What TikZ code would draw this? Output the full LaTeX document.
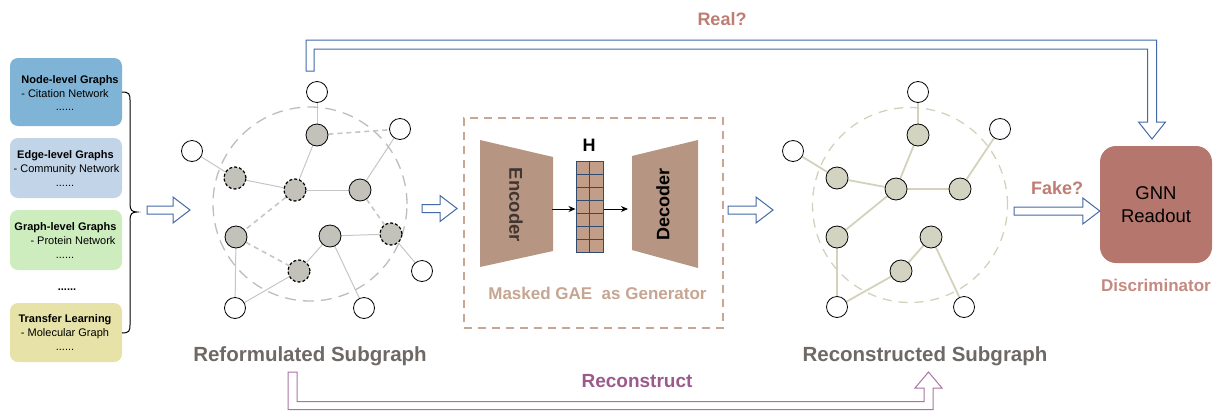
\documentclass[tikz,border=0pt]{standalone}
\usepackage{fontspec}
\setmainfont{Liberation Sans}
\usetikzlibrary{calc,backgrounds,arrows.meta}

\definecolor{boxA}{HTML}{80B4D6}
\definecolor{boxB}{HTML}{C2D4E8}
\definecolor{boxC}{HTML}{CDEDBF}
\definecolor{boxD}{HTML}{E6E2A8}
\definecolor{grayfill}{HTML}{C2C2BA}
\definecolor{beigefill}{HTML}{D3D3C1}
\definecolor{edgegray}{HTML}{C6C6C6}
\definecolor{ringgray}{HTML}{BDBDBD}
\definecolor{edgebeige}{HTML}{D4D2BA}
\definecolor{ringbeige}{HTML}{D2D2BC}
\definecolor{gaeframe}{HTML}{C9A594}
\definecolor{gaebody}{HTML}{B69582}
\definecolor{gaetext}{HTML}{C6A592}
\definecolor{enctext}{HTML}{403530}
\definecolor{cellfill}{HTML}{C29D88}
\definecolor{cellline}{HTML}{2F4B6E}
\definecolor{gnnfill}{HTML}{B5766D}
\definecolor{labelgray}{HTML}{6F6966}
\definecolor{realred}{HTML}{BE7C72}
\definecolor{discred}{HTML}{C48A80}
\definecolor{recpurple}{HTML}{9B5A8E}
\definecolor{recline}{HTML}{A874A4}
\definecolor{arrowblue}{HTML}{4369A6}

\newcommand\blockarrow[2]{%
  \draw[blockarr] let \p1=(#1), \p2=(#2) in
    (\x1,\y1+4pt) -- (\x2-17pt,\y1+4pt) -- (\x2-17pt,\y1+13pt) -- (\x2,\y1)
    -- (\x2-17pt,\y1-13pt) -- (\x2-17pt,\y1-4pt) -- (\x1,\y1-4pt) -- cycle;}

\tikzset{
  wnode/.style={circle,draw=black,line width=0.8pt,fill=white,minimum size=21pt,inner sep=0pt},
  gnode/.style={wnode,fill=grayfill,minimum size=22pt},
  mnode/.style={gnode,line width=1.2pt,dash pattern=on 3pt off 2pt},
  rnode/.style={wnode,fill=beigefill,minimum size=22pt},
  redge/.style={draw=edgegray,line width=1pt},
  medge/.style={draw=edgegray,line width=1.6pt,dash pattern=on 5pt off 4pt},
  cedge/.style={draw=edgebeige,line width=1.8pt},
  srcbox/.style={rounded corners=8pt,minimum width=112pt,inner sep=0pt},
  bhead/.style={anchor=base,font=\fontsize{11pt}{13pt}\selectfont\bfseries},
  bline/.style={anchor=base,font=\fontsize{11pt}{13pt}\selectfont},
  blockarr/.style={draw=arrowblue,fill=white,line width=1pt,line join=miter},
  biglabel/.style={anchor=base,text=labelgray,font=\fontsize{20.5pt}{24pt}\selectfont\bfseries},
}

\begin{document}
\begin{tikzpicture}[x=1pt,y=-1pt]
\useasboundingbox (0,0) rectangle (1214,410);

% ---- data sources -------------------------------------------------
\node[srcbox,fill=boxA,minimum height=68pt] (srcA) at (66,92) {};
\node[srcbox,fill=boxB,minimum height=60pt] (srcB) at (66,168) {};
\node[srcbox,fill=boxC,minimum height=60pt] (srcC) at (66,240) {};
\node[srcbox,fill=boxD,minimum height=59pt] (srcD) at (66,332.5) {};

\node[bhead] (tA1) at (70,83) {Node-level Graphs};
\node[bline] (tA2) at (65,97) {- Citation Network};
\node[bline] (tA3) at (65,110) {......};
\node[bhead] (tB1) at (65.5,158) {Edge-level Graphs};
\node[bline] (tB2) at (66.5,172) {- Community Network};
\node[bline] (tB3) at (65,186) {......};
\node[bhead] (tC1) at (65.5,230) {Graph-level Graphs};
\node[bline] (tC2) at (73,244) {- Protein Network};
\node[bline] (tC3) at (65,258) {......};
\node[bhead] (tDots) at (67,290) {......};
\node[bhead] (tD1) at (65,322) {Transfer Learning};
\node[bline] (tD2) at (65,336) {- Molecular Graph};
\node[bline] (tD3) at (65,350) {......};

% brace gathering the sources
\draw[line width=1pt] (122,92) .. controls (129,92) and (130,94) .. (130,100)
  -- (130,204) .. controls (130,210) and (132,212) .. (137,212)
  .. controls (132,212) and (130,214) .. (130,220)
  -- (130,325) .. controls (130,331) and (129,333) .. (122,333);

% ---- reformulated subgraph ---------------------------------------
\node[circle,draw=ringgray,line width=1.3pt,dash pattern=on 11pt off 7pt,minimum size=194pt,inner sep=0pt] (ringA) at (310,204) {};
\node[wnode] (a0) at (317,92) {};
\node[gnode] (a1) at (317,135) {};
\node[wnode] (a2) at (400,129) {};
\node[wnode] (a3) at (192,151) {};
\node[mnode] (a4) at (235,178) {};
\node[mnode] (a5) at (295,190) {};
\node[gnode] (a6) at (360,190) {};
\node[gnode] (a7) at (236,237) {};
\node[gnode] (a8) at (330,236) {};
\node[mnode] (a9) at (391,234) {};
\node[mnode] (a10) at (299,271) {};
\node[wnode] (a11) at (422,271) {};
\node[wnode] (a12) at (235,308) {};
\node[wnode] (a13) at (364,308) {};
\begin{pgfonlayer}{background}
  \foreach \u/\v in {a0/a1,a1/a5,a3/a4,a4/a5,a5/a6,a6/a2,a9/a11,a8/a9,a8/a10,a8/a13,a7/a12,a10/a12}
    \draw[redge] (\u) -- (\v);
  \foreach \u/\v in {a1/a2,a5/a7,a7/a10,a6/a9}
    \draw[medge] (\u) -- (\v);
\end{pgfonlayer}
\node[biglabel] (labA) at (310,361) {Reformulated Subgraph};

% ---- masked GAE generator ----------------------------------------
\node[draw=gaeframe,line width=1.5pt,dash pattern=on 8pt off 6pt,minimum width=259pt,minimum height=210pt,inner sep=0pt] (gae) at (593.5,223) {};
\fill[gaebody] (480,140) -- (553,157) -- (553,251) -- (480,267) -- cycle;
\fill[gaebody] (632,156) -- (698,140) -- (698,268) -- (632,250) -- cycle;
\node[rotate=-90,text=enctext,font=\fontsize{18.5pt}{20pt}\selectfont\bfseries] (enc) at (516,205) {Encoder};
\node[rotate=90,text=black,font=\fontsize{18pt}{20pt}\selectfont\bfseries] (dec) at (663,204) {Decoder};
\node[draw=cellline,fill=cellfill,line width=1pt,minimum width=27pt,minimum height=91pt,inner sep=0pt] (hvec) at (589.5,206.5) {};
\foreach \yy in {174,187,200,213,226,239}
  \draw[cellline,line width=0.9pt] (576,\yy) -- (603,\yy);
\draw[cellline,line width=0.9pt] (589.5,161) -- (589.5,252);
\node[anchor=base,font=\fontsize{18pt}{20pt}\selectfont\bfseries] (hlab) at (589,151) {H};
\coordinate (encR) at (552,209);
\coordinate (decL) at (628,209);
\draw[-{Stealth[length=7pt,width=6pt]},line width=0.9pt] (encR) -- (hvec.west |- encR);
\draw[-{Stealth[length=7pt,width=6pt]},line width=0.9pt] (hvec.east |- decL) -- (decL);
\node[anchor=base,text=gaetext,font=\fontsize{17pt}{20pt}\selectfont\bfseries] (gaelab) at (597.5,299) {Masked GAE\ \ as Generator};

% ---- reconstructed subgraph --------------------------------------
\node[circle,draw=ringbeige,line width=1.3pt,dash pattern=on 9pt off 7pt,minimum size=195pt,inner sep=0pt] (ringB) at (910,205) {};
\node[wnode] (b0) at (918,92) {};
\node[rnode] (b1) at (918,135) {};
\node[wnode] (b2) at (1000,129) {};
\node[wnode] (b3) at (793,151) {};
\node[rnode] (b4) at (837,178) {};
\node[rnode] (b5) at (896,189) {};
\node[rnode] (b6) at (960,189) {};
\node[rnode] (b7) at (837,237) {};
\node[rnode] (b8) at (931,237) {};
\node[rnode] (b9) at (901,271) {};
\node[wnode] (b10) at (837,307) {};
\node[wnode] (b11) at (964,307) {};
\begin{pgfonlayer}{background}
  \foreach \u/\v in {b0/b1,b1/b5,b3/b4,b4/b5,b5/b6,b6/b2,b5/b7,b7/b10,b10/b9,b9/b8,b8/b11}
    \draw[cedge] (\u) -- (\v);
\end{pgfonlayer}
\node[biglabel] (labB) at (925,361) {Reconstructed Subgraph};

% ---- discriminator -----------------------------------------------
\node[fill=gnnfill,rounded corners=16pt,minimum width=112pt,minimum height=117pt,inner sep=0pt,
      align=center,font=\fontsize{18.5pt}{23pt}\selectfont] (gnn) at (1156,204.5) {GNN\\Readout};
\node[anchor=base,text=discred,font=\fontsize{17pt}{20pt}\selectfont\bfseries] (disc) at (1156,291) {Discriminator};
\node[anchor=base,text=realred,font=\fontsize{18pt}{20pt}\selectfont\bfseries] (fake) at (1057,194) {Fake?};
\node[anchor=base,text=realred,font=\fontsize{18pt}{20pt}\selectfont\bfseries] (real) at (722,25) {Real?};

% ---- flow arrows -------------------------------------------------
\coordinate (f1s) at (147,210);  \coordinate (f1e) at (190,210);
\coordinate (f2s) at (422,208.5); \coordinate (f2e) at (457,208.5);
\coordinate (f3s) at (728,210);  \coordinate (f3e) at (773,210);
\coordinate (f4s) at (1014,211); \coordinate (f4e) at (gnn.west |- f4s);
\blockarrow{f1s}{f1e}
\blockarrow{f2s}{f2e}
\blockarrow{f3s}{f3e}
\blockarrow{f4s}{f4e}

% real sample routed over the top to the discriminator
\coordinate (realS) at (310,71);
\coordinate (realE) at (1152,139);
\coordinate (realY) at (0,44.5);
\draw[blockarr] let \p1=(realS), \p2=(realE), \p3=(realY) in
  (\x1-4pt,\y1) -- (\x1-4pt,\y3+4.5pt) -- (\x2+4.5pt,\y3+4.5pt) -- (\x2+4.5pt,\y2+17pt)
  -- (\x2+13.5pt,\y2+17pt) -- (\x2,\y2) -- (\x2-13.5pt,\y2+17pt) -- (\x2-4.5pt,\y2+17pt)
  -- (\x2-4.5pt,\y3-4.5pt) -- (\x1+4pt,\y3-4.5pt) -- (\x1+4pt,\y1) -- cycle;

% reconstruction target routed underneath
\coordinate (recS) at (292.5,372);
\coordinate (recE) at (928.5,372);
\coordinate (recY) at (0,405.5);
\draw[draw=recline,fill=white,line width=1pt,line join=miter] let \p1=(recS), \p2=(recE), \p3=(recY) in
  (\x1-4.5pt,\y1) -- (\x1-4.5pt,\y3-4pt) -- (\x2+4.5pt,\y3-4pt) -- (\x2+4.5pt,\y2-16pt)
  -- (\x2+13.5pt,\y2-16pt) -- (\x2,\y2) -- (\x2-13.5pt,\y2-16pt) -- (\x2-4.5pt,\y2-16pt)
  -- (\x2-4.5pt,\y3+4pt) -- (\x1+4.5pt,\y3+4pt) -- (\x1+4.5pt,\y1) -- cycle;
\node[anchor=base,text=recpurple,font=\fontsize{19pt}{22pt}\selectfont\bfseries] (rec) at (637,387) {Reconstruct};
\end{tikzpicture}
\end{document}
